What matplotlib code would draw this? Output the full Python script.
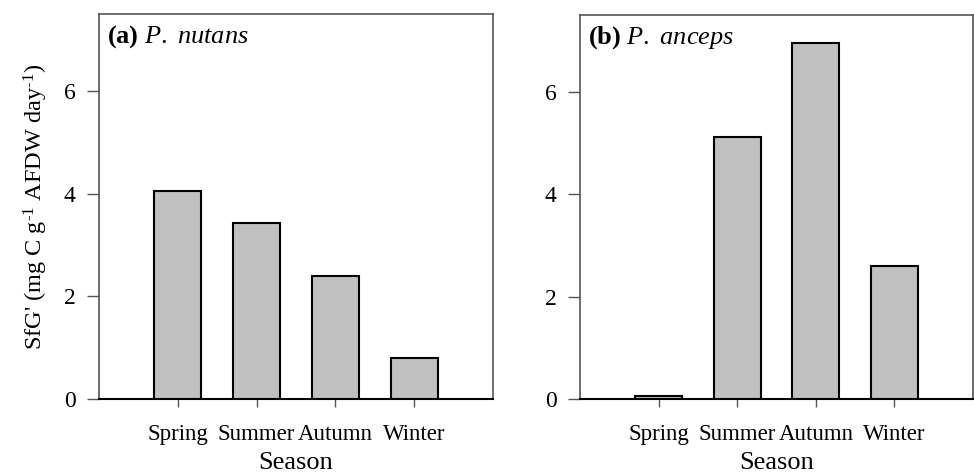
import matplotlib
matplotlib.use("Agg")
import matplotlib.pyplot as plt

seasons = ["Spring", "Summer", "Autumn", "Winter"]
nutans = [4.05, 3.43, 2.39, 0.79]
anceps = [0.05, 5.11, 6.95, 2.60]
yticks = [0, 2, 4, 6]

plt.rcParams['font.family'] = ['Liberation Serif', 'DejaVu Serif']
plt.rcParams['mathtext.fontset'] = 'custom'
plt.rcParams['mathtext.rm'] = 'Liberation Serif'
plt.rcParams['mathtext.it'] = 'Liberation Serif:italic'
plt.rcParams['mathtext.bf'] = 'Liberation Serif:bold'

fig = plt.figure(figsize=(9.74, 4.75), dpi=100)
ax1 = fig.add_axes([99/974, 1-399/475, 394/974, 385/475])
ax2 = fig.add_axes([580/974, 1-399/475, 393/974, 384/475])

for ax, vals, title in [(ax1, nutans, r"$\mathbf{(a)}$ $\mathit{P.\ nutans}$"),
                        (ax2, anceps, r"$\mathbf{(b)}$ $\mathit{P.\ anceps}$")]:
    x = list(range(len(seasons)))
    ax.bar(x, vals, width=0.6, color="#c0c0c0", edgecolor="black", linewidth=1.5, zorder=3)
    ax.set_xlim(-1, 4)
    ax.set_ylim(0, 7.5)
    ax.set_xticks(x)
    ax.set_xticklabels(seasons, fontsize=16.5)
    ax.set_yticks(yticks)
    ax.set_yticklabels([str(t) for t in yticks], fontsize=17)
    ax.tick_params(axis='y', direction='out', length=9, width=1, color='#555555', pad=8)
    ax.tick_params(axis='x', direction='out', length=6, width=1, color='#555555', pad=12)
    for s in ['top', 'right', 'left']:
        ax.spines[s].set_color('#555555')
        ax.spines[s].set_linewidth(1.2)
    ax.spines['bottom'].set_color('black')
    ax.spines['bottom'].set_linewidth(1.5)
    ax.set_xlabel("Season", fontsize=19, labelpad=5)
    ax.text(0.02, 0.975, title, transform=ax.transAxes, fontsize=19, va='top', ha='left')

ax1.set_ylabel(r"SfG' (mg C g$^{\text{-1}}$ AFDW day$^{\text{-1}}$)", fontsize=17.5, labelpad=10)

fig.savefig("out.png", dpi=100)
